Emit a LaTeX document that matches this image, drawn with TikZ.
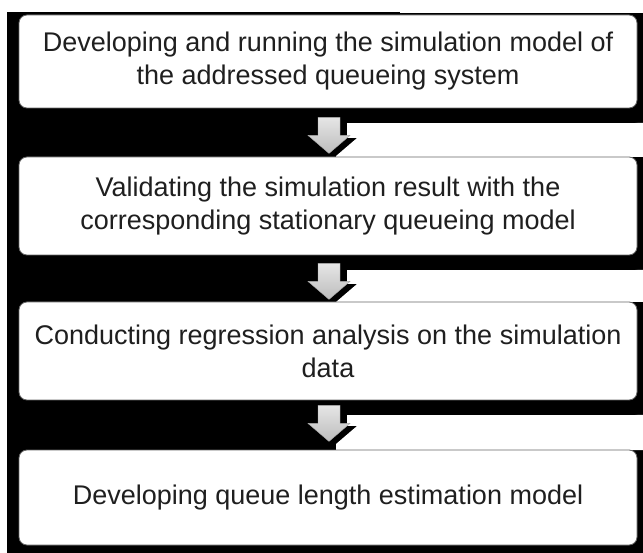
\documentclass[tikz,border=0pt]{standalone}
\usepackage{fontspec}
\setmainfont{Liberation Sans}
\usetikzlibrary{calc}
\begin{document}
\begin{tikzpicture}[x=1pt,y=-1pt,
  stepbox/.style={draw=black!60, line width=0.8pt, fill=white, rounded corners=8pt,
    inner sep=0pt, minimum width=618pt, align=center, text=black!88,
    font=\fontsize{27}{33}\selectfont},
  boxshadow/.style={fill=black, rounded corners=8pt},
  flowarrow/.style={draw=black!35, line width=0.4pt, top color=black!10, bottom color=black!26},
  blockarrow/.pic={\path[flowarrow] (-11,0) -- (11,0) -- (11,18) -- (21,18) -- (0,36)
      -- (-21,18) -- (-11,18) -- cycle;},
]
\useasboundingbox (0,0) rectangle (643,553);
% dark panel
\fill[black] (7,12) rectangle (643,553);
\fill[white] (400,0) rectangle (643,13);
% light gaps to the right of the arrows
\fill[white] (347,123) -- (347,138) -- (357,138) -- (336,156) -- (336,157) -- (643,157) -- (643,123) -- cycle;
\fill[white] (347,270) -- (347,284) -- (357,284) -- (336,302) -- (643,302) -- (643,270) -- cycle;
\fill[white] (347,415) -- (347,426) -- (357,426) -- (336,444) -- (336,450) -- (643,450) -- (643,415) -- cycle;
% shadows
\fill[boxshadow] (24,20) rectangle (642,123);
\fill[boxshadow] (24,162) rectangle (642,270);
\fill[boxshadow] (24,307) rectangle (642,415);
\fill[boxshadow] (24,455) rectangle (642,553);
% boxes
\node[stepbox, minimum height=93pt] (b1) at (328,61.5)
  {Developing and running the simulation model of\\the addressed queueing system};
\node[stepbox, minimum height=98pt] (b2) at (328,206)
  {Validating the simulation result with the\\corresponding stationary queueing model};
\node[stepbox, minimum height=98pt] (b3) at (328,351)
  {Conducting regression analysis on the simulation\\data};
\node[stepbox, minimum height=95pt] (b4) at (328,497.5)
  {Developing queue length estimation model};
% arrows
\pic at ($(b1.south)+(1,9)$) {blockarrow};
\pic at ($(b2.south)+(1,8)$) {blockarrow};
\pic at ($(b3.south)+(1,5)$) {blockarrow};
\end{tikzpicture}
\end{document}
